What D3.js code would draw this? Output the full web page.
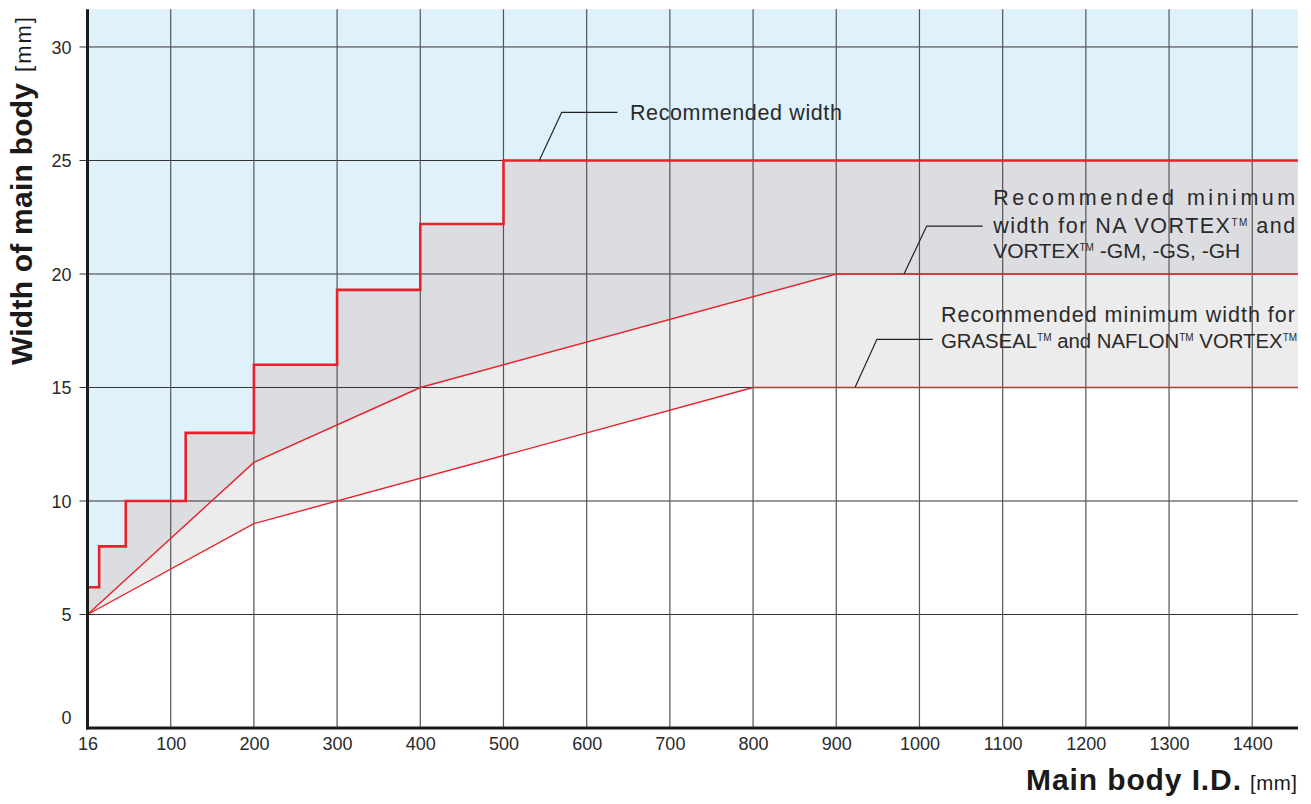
<!DOCTYPE html>
<html><head><meta charset="utf-8">
<script src="https://cdn.jsdelivr.net/npm/d3@7"></script>
<style>body{margin:0;background:#fff} text{font-family:"Liberation Sans",Arial,Helvetica,sans-serif;fill:#2a2a2a}</style>
</head><body><svg id="c" width="1311" height="804"></svg>
<script>
// ---- data ----
const xTickValues = [0,100,200,300,400,500,600,700,800,900,1000,1100,1200,1300,1400];
const xTickLabels = ["16","100","200","300","400","500","600","700","800","900","1000","1100","1200","1300","1400"];
const yTickValues = [0,5,10,15,20,25,30];
// Recommended width (stepped)
const stepX = [0, 14, 46, 118, 200, 300, 400, 500, 1455];
const stepY = [6.2, 8, 10, 13, 16, 19.3, 22.2, 25, 25];
// Recommended minimum width for NA VORTEX and VORTEX -GM,-GS,-GH
const naX = [0, 200, 400, 900, 1455];
const naY = [5, 11.7, 15, 20, 20];
// Recommended minimum width for GRASEAL and NAFLON VORTEX
const grX = [0, 200, 800, 1455];
const grY = [5, 9, 15, 15];

// ---- scales ----
const xMax = 1455, yMax = 31.66;
const x = d3.scaleLinear().domain([0, xMax]).range([87.5, 1298]);
const y = d3.scaleLinear().domain([0, yMax]).range([728, 9.3]);

const svg = d3.select("#c");
const zip = (a, b) => a.map((v, i) => [v, b[i]]);
const stepPts = zip(stepX, stepY), naPts = zip(naX, naY), grPts = zip(grX, grY);

// background
svg.append("rect").attr("x", x(0)).attr("y", y(yMax)).attr("width", x(xMax) - x(0)).attr("height", y(0) - y(yMax)).attr("fill", "#dff1fb");

const areaStep = d3.area().x(d => x(d[0])).y0(y(0)).y1(d => y(d[1])).curve(d3.curveStepAfter);
const areaLin = d3.area().x(d => x(d[0])).y0(y(0)).y1(d => y(d[1]));
svg.append("path").attr("d", areaStep(stepPts)).attr("fill", "#dcdde0");
svg.append("path").attr("d", areaLin(naPts)).attr("fill", "#ececec");
svg.append("path").attr("d", areaLin(grPts)).attr("fill", "#ffffff");

// grid
const g = svg.append("g");
g.selectAll(".hg").data(yTickValues.filter(v => v > 0)).join("line")
  .attr("x1", x(0) - 8).attr("x2", x(xMax)).attr("y1", d => y(d)).attr("y2", d => y(d))
  .attr("stroke", "#333").attr("stroke-width", 1);
g.selectAll(".vg").data(xTickValues.filter(v => v > 0)).join("line")
  .attr("x1", d => x(d)).attr("x2", d => x(d)).attr("y1", y(yMax)).attr("y2", y(0))
  .attr("stroke", "#555").attr("stroke-width", 1.2);

// lines
const lineStep = d3.line().x(d => x(d[0])).y(d => y(d[1])).curve(d3.curveStepAfter);
const lineLin = d3.line().x(d => x(d[0])).y(d => y(d[1]));
svg.append("path").attr("d", lineLin(naPts)).attr("fill", "none").attr("stroke", "#e8212b").attr("stroke-width", 1.4);
svg.append("path").attr("d", lineLin(grPts)).attr("fill", "none").attr("stroke", "#e8212b").attr("stroke-width", 1.4);
svg.append("path").attr("d", lineStep(stepPts)).attr("fill", "none").attr("stroke", "#e8212b").attr("stroke-width", 2.6);

// axes lines
svg.append("line").attr("x1", x(0)).attr("x2", x(0)).attr("y1", y(yMax)).attr("y2", y(0) + 1.5).attr("stroke", "#1a1a1a").attr("stroke-width", 3);
svg.append("line").attr("x1", x(0) - 1.5).attr("x2", x(xMax)).attr("y1", y(0)).attr("y2", y(0)).attr("stroke", "#1a1a1a").attr("stroke-width", 3);

// tick labels via axes
const xa = svg.append("g").attr("transform", `translate(0,${y(0)})`)
  .call(d3.axisBottom(x).tickValues(xTickValues).tickSize(0).tickPadding(9).tickFormat((d, i) => xTickLabels[i]));
xa.select(".domain").remove();
xa.selectAll("text").attr("font-size", 18).attr("font-family", "'Liberation Sans',Arial,sans-serif").attr("fill", "#2a2a2a").attr("dy", "0.71em");

const ya = svg.append("g").attr("transform", `translate(${x(0) - 16},0)`)
  .call(d3.axisLeft(y).tickValues(yTickValues).tickSize(0).tickPadding(0).tickFormat(d3.format("d")));
ya.select(".domain").remove();
ya.selectAll("text").attr("font-size", 18).attr("font-family", "'Liberation Sans',Arial,sans-serif").attr("fill", "#2a2a2a")
  .attr("dy", d => d === 0 ? "-0.25em" : "0.35em");

// axis titles
svg.append("text").attr("x", 1026).attr("y", 790).attr("font-size", 30).attr("font-weight", "bold")
  .attr("textLength", 215).attr("lengthAdjust", "spacing").style("fill", "#1a1a1a").text("Main body I.D.");
svg.append("text").attr("x", 1250).attr("y", 790).attr("font-size", 20.5)
  .attr("textLength", 47).attr("lengthAdjust", "spacing").style("fill", "#1a1a1a").text("[mm]");

const yt = svg.append("g").attr("transform", "translate(32,365) rotate(-90)");
yt.append("text").attr("x", 0).attr("y", 0).attr("font-size", 30).attr("font-weight", "bold")
  .attr("textLength", 282).attr("lengthAdjust", "spacing").style("fill", "#1a1a1a").text("Width of main body");
yt.append("text").attr("x", 293).attr("y", -1).attr("font-size", 22)
  .attr("textLength", 55).attr("lengthAdjust", "spacing").style("fill", "#1a1a1a").text("[mm]");

// annotations
function leader(pts) {
  svg.append("path").attr("d", d3.line().x(d => x(d[0])).y(d => y(d[1]))(pts))
    .attr("fill", "none").attr("stroke", "#222").attr("stroke-width", 1.2);
}
function label(xv, yv, parts, len) {
  const fs = 21.5;
  const t = svg.append("text").attr("x", x(xv)).attr("y", y(yv)).attr("font-size", fs);
  let raised = false;
  parts.forEach(p => {
    if (p === "TM") {
      t.append("tspan").attr("font-size", 10).attr("dy", -7).text("TM");
      raised = true;
    } else {
      const s = t.append("tspan").text(p);
      if (raised) { s.attr("dy", 7); raised = false; }
    }
  });
  const nat = t.node().getComputedTextLength();
  if (nat > len) t.attr("font-size", fs * len / nat);
  else t.attr("textLength", len).attr("lengthAdjust", "spacing");
}
leader([[543, 25], [570, 27.12], [637, 27.12]]);
label(652, 26.78, ["Recommended width"], 212);

leader([[981.4, 20], [1008.7, 22.11], [1076, 22.11]]);
label(1088.6, 23.04, ["Recommended minimum"], 302);
label(1088.6, 21.81, ["width for NA VORTEX", "TM", " and"], 302);
label(1088.6, 20.70, ["VORTEX", "TM", " -GM, -GS, -GH"], 247);

leader([[922.5, 15], [948.9, 17.12], [1016, 17.12]]);
label(1025.8, 17.9, ["Recommended minimum width for"], 354);
label(1025.8, 16.74, ["GRASEAL", "TM", " and NAFLON", "TM", " VORTEX", "TM"], 354);
</script></body></html>
